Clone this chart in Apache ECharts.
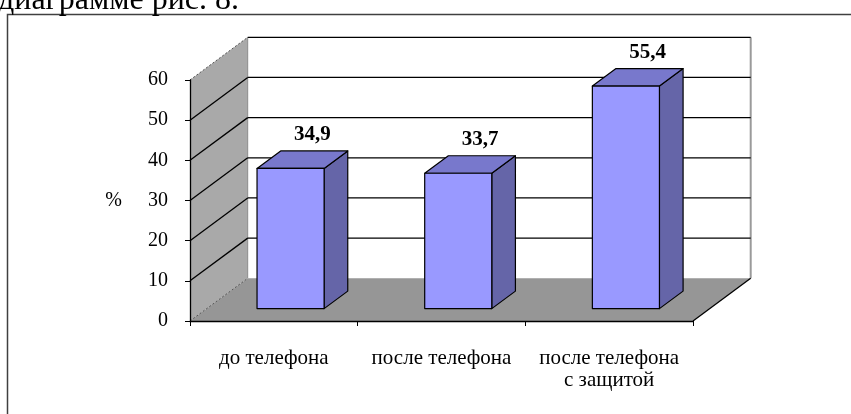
<!DOCTYPE html>
<html>
<head>
<meta charset="utf-8">
<script src="https://cdn.jsdelivr.net/npm/echarts@6/dist/echarts.min.js"></script>
<style>
  html, body { margin: 0; padding: 0; background: #fff; }
  #chart { width: 851px; height: 414px; }
</style>
</head>
<body>
<div id="chart"></div>
<script>
// Chart data
const categories = ['до телефона', 'после телефона', 'после телефона\nс защитой'];
const values = [34.9, 33.7, 55.4];
const yTicks = [0, 10, 20, 30, 40, 50, 60];

// Oblique projection of the depth axis (pixels for the full depth of the box)
const DEPTH_X = 57.7;
const DEPTH_Y = -42.7;
// Bars occupy this slice of the depth
const BAR_FRONT = 0.29;
const BAR_BACK = 0.70;
const BAR_WIDTH = 0.4; // share of the category band

const SERIF = '"Times New Roman", "Liberation Serif", serif';

function fmt(v) { return v.toFixed(1).replace('.', ','); }

// Walls, floor and wall gridlines of the 3D box
function renderBox(params, api) {
  const cs = params.coordSys;
  const x0 = cs.x, x1 = cs.x + cs.width;
  const yMin = yTicks[0], yMax = yTicks[yTicks.length - 1];
  const yb = api.coord([0, yMin])[1];
  const yt = api.coord([0, yMax])[1];
  const dx = DEPTH_X, dy = DEPTH_Y;
  const children = [];
  // back wall
  children.push({ type: 'polygon', shape: { points: [[x0 + dx, yt + dy], [x1 + dx, yt + dy], [x1 + dx, yb + dy], [x0 + dx, yb + dy]] },
    style: { fill: '#ffffff', stroke: null } });
  // side wall
  children.push({ type: 'polygon', shape: { points: [[x0, yb], [x0, yt], [x0 + dx, yt + dy], [x0 + dx, yb + dy]] },
    style: { fill: '#a9a9a9', stroke: null } });
  // floor
  children.push({ type: 'polygon', shape: { points: [[x0, yb], [x1, yb], [x1 + dx, yb + dy], [x0 + dx, yb + dy]] },
    style: { fill: '#969696', stroke: null } });
  // inner corner edge and back wall right edge
  children.push({ type: 'line', shape: { x1: x0 + dx, y1: yt + dy, x2: x0 + dx, y2: yb + dy }, style: { stroke: '#8c8c8c', lineWidth: 1 } });
  children.push({ type: 'line', shape: { x1: x1 + dx, y1: yt + dy, x2: x1 + dx, y2: yb + dy }, style: { stroke: '#9a9a9a', lineWidth: 2 } });
  // gridlines on side and back walls
  yTicks.forEach(function (t) {
    const y = api.coord([0, t])[1];
    const edge = (t === yMin || t === yMax);
    children.push({ type: 'line', shape: { x1: x0, y1: y, x2: x0 + dx, y2: y + dy },
      style: { stroke: edge ? '#555' : '#000', lineWidth: edge ? 1 : 1.3, lineDash: edge ? [2, 2] : null } });
    if (t !== yMin) {
      children.push({ type: 'line', shape: { x1: x0 + dx, y1: y + dy, x2: x1 + dx, y2: y + dy },
        style: { stroke: '#000', lineWidth: 1.3 } });
    }
  });
  // floor right edge
  children.push({ type: 'line', shape: { x1: x1, y1: yb, x2: x1 + dx, y2: yb + dy }, style: { stroke: '#000', lineWidth: 1.3 } });
  return { type: 'group', children: children };
}

// A 3D bar: front, top and side faces plus the value label
function renderBar(params, api) {
  const i = api.value(0);
  const v = api.value(1);
  const top = api.coord([i, v]);
  const base = api.coord([i, 0]);
  const band = api.size([1, 0])[0];
  const w = band * BAR_WIDTH;
  const fx = BAR_FRONT * DEPTH_X, fy = BAR_FRONT * DEPTH_Y;
  const ddx = (BAR_BACK - BAR_FRONT) * DEPTH_X, ddy = (BAR_BACK - BAR_FRONT) * DEPTH_Y;
  const xl = top[0] - w / 2 + fx, xr = top[0] + w / 2 + fx;
  const yt = top[1] + fy, yb = base[1] + fy;
  const line = { stroke: '#000', lineWidth: 1.2, lineJoin: 'round' };
  return {
    type: 'group',
    children: [
      { type: 'polygon', shape: { points: [[xr, yt], [xr + ddx, yt + ddy], [xr + ddx, yb + ddy], [xr, yb]] },
        style: Object.assign({ fill: '#6565a8' }, line) },
      { type: 'polygon', shape: { points: [[xl, yt], [xr, yt], [xr + ddx, yt + ddy], [xl + ddx, yt + ddy]] },
        style: Object.assign({ fill: '#7878cc' }, line) },
      { type: 'rect', shape: { x: xl, y: yt, width: xr - xl, height: yb - yt },
        style: Object.assign({ fill: '#9999ff' }, line) },
      { type: 'text', style: { text: fmt(v), x: (xl + xr) / 2 + ddx / 2 + 10, y: yt + ddy - 16,
        align: 'center', verticalAlign: 'middle',
        fontFamily: SERIF, fontWeight: 'bold', fontSize: 21, fill: '#000' } }
    ]
  };
}

const chart = echarts.init(document.getElementById('chart'), null, { renderer: 'canvas' });
chart.setOption({
  animation: false,
  backgroundColor: '#ffffff',
  textStyle: { fontFamily: SERIF },
  grid: { left: 190, right: 158, top: 80, bottom: 93, containLabel: false },
  xAxis: {
    type: 'category',
    data: categories,
    z: 5,
    axisLine: { lineStyle: { color: '#000', width: 1.3 } },
    axisTick: { show: true, length: 5, lineStyle: { color: '#000' } },
    axisLabel: { color: '#000', fontFamily: SERIF, fontSize: 21, lineHeight: 22, margin: 26, interval: 0 }
  },
  yAxis: {
    type: 'value',
    min: 0, max: 60, interval: 10,
    z: 5,
    name: '%',
    nameLocation: 'middle',
    nameRotate: 0,
    nameGap: 68,
    nameTextStyle: { color: '#000', fontFamily: SERIF, fontSize: 20 },
    axisLine: { show: true, lineStyle: { color: '#000', width: 1.3 } },
    axisTick: { show: true, length: 5, lineStyle: { color: '#000' } },
    axisLabel: { color: '#000', fontFamily: SERIF, fontSize: 20, margin: 22 },
    splitLine: { show: false }
  },
  graphic: [
    { type: 'rect', silent: true, z: 0,
      shape: { x: 7.5, y: 14.5, width: 900, height: 450 },
      style: { fill: null, stroke: '#404040', lineWidth: 1.5 } },
    { type: 'text', silent: true,
      style: { text: 'диаграмме рис. 8.', x: -2, y: 17, verticalAlign: 'bottom',
        fontFamily: SERIF, fontSize: 32, fill: '#000' } }
  ],
  series: [
    { type: 'custom', name: 'box', clip: false, z: 1, silent: true,
      renderItem: renderBox, data: [[0, 0]] },
    { type: 'custom', name: 'bars', clip: false, z: 3,
      renderItem: renderBar, data: values.map(function (v, i) { return [i, v]; }) }
  ]
});
</script>
</body>
</html>
